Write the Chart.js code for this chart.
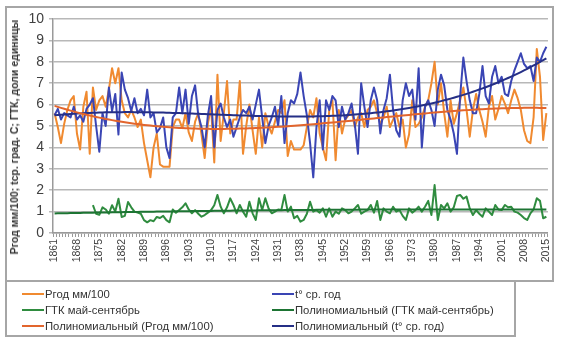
<!DOCTYPE html>
<html>
<head>
<meta charset="utf-8">
<script src="https://cdn.jsdelivr.net/npm/chart.js@4.4.1/dist/chart.umd.min.js"></script>
<style>
    html, body { margin: 0; padding: 0; background: #fff; }
    body { width: 561px; height: 339px; position: relative; overflow: hidden; font-family: "Liberation Sans", Arial, sans-serif; }
    #frame { position: absolute; left: 5px; top: 6px; width: 549px; height: 276px; box-sizing: border-box; border: 2px solid #a6a6a6; }
    #chart { position: absolute; left: 0; top: 0; }
    #ytitle { position: absolute; left: 14px; top: 137px; transform: translate(-50%, -50%) rotate(-90deg); font-size: 10.5px; font-weight: bold; color: #333; white-space: nowrap; }
    #legend { position: absolute; left: 5px; top: 280px; width: 511px; height: 57px; box-sizing: border-box; border: 2px solid #a6a6a6; }
    .item { position: absolute; font-size: 11.3px; color: #333; white-space: nowrap; line-height: 14px; }
    .item i { display: inline-block; width: 22px; height: 0; border-top: 2px solid; vertical-align: middle; margin-right: 1px; position: relative; top: -1px; }
</style>
</head>
<body>
<div id="frame"></div>
<canvas id="chart" width="561" height="281"></canvas>
<div id="ytitle"></div>
<div id="legend"></div>

<script>
// --- Data ---
const firstYear = 1861;
const lastYear = 2015;

// Ргод мм/100
const precip = [
    5.6, 4.95, 4.2, 5.1, 5.75, 6.2, 6.4, 4.65, 3.9, 5.9,      // 1861-1870
    6.6, 3.7, 6.8, 5.75, 6.2, 6.4, 5.9, 6.7, 7.7, 7.0,        // 1871-1880
    7.7, 6.2, 5.6, 5.4, 5.75, 5.4, 4.95, 5.3, 4.2, 3.4,       // 1881-1890
    2.6, 4.0, 4.65, 3.2, 3.1, 3.1, 3.1, 4.95, 5.3, 5.3,       // 1891-1900
    4.9, 5.6, 4.7, 4.3, 5.2, 5.6, 4.6, 3.5, 5.1, 5.9,         // 1901-1910
    3.3, 7.4, 4.3, 5.6, 7.1, 4.65, 5.3, 5.3, 7.1, 3.7,        // 1911-1920
    5.0, 6.0, 4.8, 3.7, 5.4, 4.0, 5.6, 5.0, 4.65, 5.2,        // 1921-1930
    5.75, 5.6, 6.2, 3.6, 4.3, 3.9, 3.9, 3.9, 4.1, 4.95,       // 1931-1940
    5.75, 5.4, 6.3, 4.65, 4.0, 3.4, 5.75, 6.2, 3.4, 5.75,     // 1941-1950
    4.65, 5.3, 5.5, 5.75, 4.95, 5.4, 5.6, 4.95, 5.75, 5.9,    // 1951-1960
    6.2, 5.6, 5.1, 5.4, 5.9, 4.95, 5.3, 5.6, 4.95, 5.3,       // 1961-1970
    4.0, 4.6, 6.2, 4.95, 5.1, 5.4, 5.9, 6.2, 7.0, 8.0,        // 1971-1980
    6.0, 7.0, 5.6, 4.5, 6.2, 5.1, 5.6, 6.2, 6.8, 5.75,        // 1981-1990
    4.5, 5.75, 6.5, 5.75, 5.2, 4.5, 5.9, 6.4, 5.3, 5.8,       // 1991-2000
    6.4, 6.05, 5.6, 6.2, 6.7, 6.3, 5.75, 4.8, 4.3, 4.2,       // 2001-2010
    5.4, 8.6, 7.3, 4.35, 5.6                                  // 2011-2015
];

// t° ср. год
const temp = [
    5.5, 5.8, 5.3, 5.6, 5.5, 5.4, 5.9, 5.3, 5.5, 5.2,         // 1861-1870
    5.8, 6.0, 6.3, 5.0, 3.8, 5.6, 5.0, 6.8, 5.7, 6.5,         // 1871-1880
    4.6, 7.5, 6.7, 6.3, 5.7, 6.3, 5.6, 5.8, 5.5, 6.7,         // 1881-1890
    5.4, 5.6, 4.7, 4.9, 5.4, 4.0, 3.5, 5.4, 5.6, 6.8,         // 1891-1900
    5.6, 6.7, 5.1, 6.4, 6.9, 5.5, 4.95, 4.0, 5.5, 6.4,        // 1901-1910
    4.0, 5.75, 6.05, 5.4, 4.95, 5.3, 4.5, 4.95, 5.4, 5.75,    // 1911-1920
    5.6, 5.9, 5.3, 6.0, 6.7, 5.4, 4.2, 5.0, 5.4, 5.9,         // 1921-1930
    5.0, 6.4, 4.2, 5.6, 6.2, 6.05, 6.5, 7.5, 6.4, 5.5,        // 1931-1940
    4.2, 2.6, 4.95, 6.2, 3.9, 6.2, 5.75, 6.4, 6.2, 4.95,      // 1941-1950
    5.9, 5.3, 5.6, 6.05, 5.1, 3.7, 7.0, 5.9, 4.95, 6.2,       // 1951-1960
    6.8, 6.2, 4.65, 5.75, 6.3, 7.4, 5.75, 4.8, 4.5, 6.2,      // 1961-1970
    7.0, 6.4, 6.7, 5.3, 7.7, 4.0, 5.9, 6.2, 5.75, 5.0,        // 1971-1980
    6.7, 7.4, 6.9, 5.75, 5.3, 4.65, 3.7, 6.4, 8.2, 7.1,       // 1981-1990
    6.2, 5.6, 5.6, 6.5, 7.8, 6.4, 6.05, 7.3, 7.8, 7.0,        // 1991-2000
    7.3, 6.5, 6.4, 7.1, 7.6, 8.0, 8.4, 7.9, 7.7, 7.8,         // 2001-2010
    7.1, 8.2, 8.0, 8.4, 8.7                                   // 2011-2015
];

// ГТК май-сентябрь (no values before 1873)
const gtk = [
    null, null, null, null, null, null, null, null, null, null, // 1861-1870
    null, null, 1.3, 0.9, 0.85, 1.2, 1.1, 0.9, 1.3, 1.0,        // 1871-1880
    1.6, 0.75, 0.8, 1.45, 1.2, 1.0, 0.95, 0.9, 0.6, 0.5,        // 1881-1890
    0.6, 0.55, 0.75, 0.7, 0.8, 0.6, 0.5, 1.1, 0.95, 1.07,       // 1891-1900
    1.2, 1.39, 1.1, 0.92, 1.07, 0.9, 0.76, 0.84, 0.95, 1.07,    // 1901-1910
    1.3, 1.78, 1.23, 0.92, 1.2, 1.62, 1.31, 0.92, 1.31, 1.0,    // 1911-1920
    0.76, 1.46, 0.92, 0.61, 1.62, 1.07, 1.62, 1.15, 0.92, 1.0,  // 1921-1930
    1.1, 1.07, 1.78, 1.0, 1.23, 0.69, 0.8, 0.53, 0.61, 0.9,     // 1931-1940
    1.46, 1.0, 1.07, 0.95, 1.15, 0.76, 1.15, 0.76, 1.0, 0.9,    // 1941-1950
    1.15, 1.07, 0.92, 1.0, 1.15, 1.31, 0.9, 1.0, 1.07, 1.31,    // 1951-1960
    0.95, 1.5, 0.61, 1.15, 1.0, 0.92, 1.23, 1.0, 1.07, 0.8,     // 1961-1970
    0.61, 1.15, 0.95, 1.07, 1.23, 1.0, 1.23, 1.5, 0.84, 2.24,   // 1971-1980
    0.61, 1.31, 1.15, 1.39, 1.0, 1.2, 1.73, 1.78, 1.6, 1.7,     // 1981-1990
    1.15, 0.84, 1.07, 0.9, 0.76, 1.15, 1.0, 0.84, 1.31, 1.1,    // 1991-2000
    1.07, 1.31, 1.2, 1.23, 1.0, 0.95, 0.84, 0.7, 0.61, 0.92,    // 2001-2010
    1.1, 1.62, 1.5, 0.69, 0.76                                  // 2011-2015
];

const years = [];
for (let y = firstYear; y <= lastYear; y++) years.push(String(y));

const yTitle = 'Ргод мм/100; tср. град. С; ГТК, доли единицы';

// --- Polynomial trend (least squares), like the spreadsheet trendline ---
const polyTrend = (values, deg) => {
    const n = deg + 1;
    const A = Array.from({ length: n }, () => new Array(n + 1).fill(0));
    values.forEach((v, k) => {
        if (v === null) return;
        const x = (k + 1) / 100;
        for (let i = 0; i < n; i++) {
            for (let j = 0; j < n; j++) A[i][j] += Math.pow(x, i + j);
            A[i][n] += v * Math.pow(x, i);
        }
    });
    for (let i = 0; i < n; i++) {
        let p = i;
        for (let r = i + 1; r < n; r++) if (Math.abs(A[r][i]) > Math.abs(A[p][i])) p = r;
        [A[i], A[p]] = [A[p], A[i]];
        for (let r = 0; r < n; r++) {
            if (r === i) continue;
            const f = A[r][i] / A[i][i];
            for (let c = i; c <= n; c++) A[r][c] -= f * A[i][c];
        }
    }
    const coef = A.map((row, i) => row[n] / row[i]);
    return values.map((_, k) => coef.reduce((s, c, i) => s + c * Math.pow((k + 1) / 100, i), 0));
};

const colors = {
    precip: '#f08a30',
    temp: '#3a45b4',
    gtk: '#2f8c3f',
    precipTrend: '#e2652d',
    tempTrend: '#252f86',
    gtkTrend: '#1d7433'
};

const font = '"Liberation Sans", Arial, sans-serif';

const ctx = document.getElementById('chart').getContext('2d');
new Chart(ctx, {
    type: 'line',
    data: {
        labels: years,
        datasets: [
            { label: 'Ргод мм/100', data: precip, borderColor: colors.precip, borderWidth: 2, order: 2 },
            { label: 't° ср. год', data: temp, borderColor: colors.temp, borderWidth: 2, order: 1 },
            { label: 'ГТК май-сентябрь', data: gtk, borderColor: colors.gtk, borderWidth: 2, order: 3 },
            { label: 'Полиномиальный (ГТК май-сентябрь)', data: polyTrend(gtk, 2), borderColor: colors.gtkTrend, borderWidth: 2, order: 0 },
            { label: 'Полиномиальный (Ргод мм/100)', data: polyTrend(precip, 3), borderColor: colors.precipTrend, borderWidth: 2, order: 0 },
            { label: 'Полиномиальный (t° ср. год)', data: polyTrend(temp, 3), borderColor: colors.tempTrend, borderWidth: 2, order: 0 }
        ]
    },
    options: {
        responsive: false,
        animation: false,
        layout: { padding: { top: 19, right: 8, left: 5, bottom: 0 } },
        elements: { point: { radius: 0 }, line: { tension: 0, borderJoinStyle: 'round' } },
        plugins: { legend: { display: false }, tooltip: { enabled: false } },
        scales: {
            x: {
                offset: true,
                grid: { drawOnChartArea: false, drawTicks: true, tickLength: 4, color: '#9a9a9a', offset: true },
                border: { color: '#9a9a9a', width: 1.5 },
                ticks: {
                    autoSkip: false, minRotation: 90, maxRotation: 90, padding: 2,
                    font: { size: 10.5, family: font }, color: '#404040',
                    callback: (v, i) => (i % 7 === 0 ? years[i] : '')
                },
                afterFit: s => { s.height = 48; }
            },
            y: {
                min: 0, max: 10,
                ticks: { stepSize: 1, padding: 5, font: { size: 14, family: font }, color: '#404040' },
                grid: { color: '#b8b8b8', lineWidth: 1.5, tickLength: 4 },
                border: { color: '#9a9a9a', width: 1.5 },
                afterFit: s => { s.width = 48; }
            }
        }
    }
});

document.getElementById('ytitle').textContent = yTitle;

// --- Legend (two columns, as in the original) ---
const legendItems = [
    { text: 'Ргод мм/100', color: colors.precip, x: 15, y: 5 },
    { text: 't° ср. год', color: colors.temp, x: 265, y: 5 },
    { text: 'ГТК май-сентябрь', color: colors.gtk, x: 15, y: 21 },
    { text: 'Полиномиальный (ГТК май-сентябрь)', color: colors.gtkTrend, x: 265, y: 21 },
    { text: 'Полиномиальный (Ргод мм/100)', color: colors.precipTrend, x: 15, y: 37 },
    { text: 'Полиномиальный (t° ср. год)', color: colors.tempTrend, x: 265, y: 37 }
];
const legend = document.getElementById('legend');
legendItems.forEach(it => {
    const el = document.createElement('div');
    el.className = 'item';
    el.style.left = it.x + 'px';
    el.style.top = it.y + 'px';
    el.innerHTML = `<i style="border-color:${it.color}"></i>${it.text}`;
    legend.appendChild(el);
});
</script>
</body>
</html>
